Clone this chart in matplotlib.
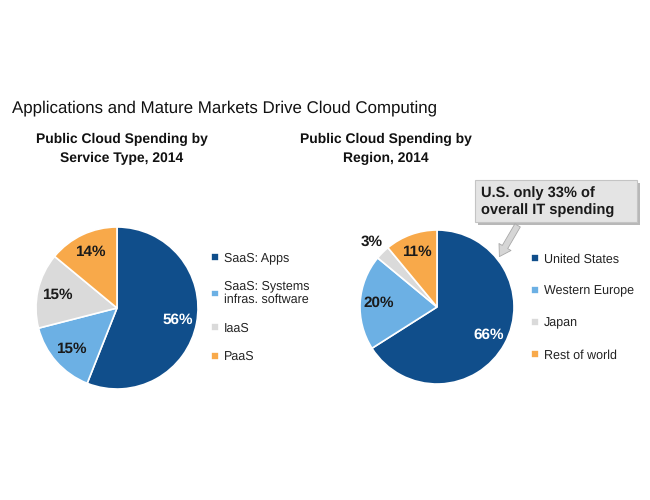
import numpy as np
import matplotlib.pyplot as plt
from matplotlib.patches import Rectangle, FancyArrowPatch

plt.rcParams['font.family'] = ['Liberation Sans', 'DejaVu Sans']
plt.rcParams['text.hinting'] = 'no_hinting'

# data
service_labels = ['SaaS: Apps', 'SaaS: Systems\ninfras. software', 'IaaS', 'PaaS']
service_share = [56, 15, 15, 14]
region_labels = ['United States', 'Western Europe', 'Japan', 'Rest of world']
region_share = [66, 20, 3, 11]

colors = ['#104e8b', '#6cb0e4', '#dadada', '#f8a94a']

W, H = 650, 500
fig = plt.figure(figsize=(6.5, 5), dpi=100)
ax = fig.add_axes([0, 0, 1, 1])


def py(y):
    # pixel row (from top) -> data y
    return H - y


def draw_pie(values, cx, cy, r):
    wedges, _, autotexts = ax.pie(
        values, colors=colors, startangle=90, counterclock=False,
        center=(cx, py(cy)), radius=r, autopct='%d%%', pctdistance=0.76,
        wedgeprops=dict(edgecolor='white', linewidth=1.2),
        textprops=dict(fontsize=11, fontweight='bold', color='#1a1a1a'))
    for i, (w, t) in enumerate(zip(wedges, autotexts)):
        if values[i] < 5:
            ang = np.deg2rad((w.theta1 + w.theta2) / 2)
            t.set_position((cx + 1.2 * r * np.cos(ang), py(cy) + 1.2 * r * np.sin(ang)))
        if i == 0:
            t.set_color('white')
    return wedges


w1 = draw_pie(service_share, 117, 308, 81)
w2 = draw_pie(region_share, 437, 307, 77)

ax.set_xlim(0, W)
ax.set_ylim(0, H)
ax.set_aspect('auto')
ax.axis('off')

leg_kw = dict(frameon=False, fontsize=9, handlelength=0.6, handleheight=0.6,
              handletextpad=0.45, borderaxespad=0,
              bbox_transform=ax.transData, labelcolor='#222222')
leg1 = ax.legend(w1, service_labels, loc='upper left', bbox_to_anchor=(206, py(247)),
                 labelspacing=1.3, **leg_kw)
for t in leg1.get_texts():
    t.set_linespacing(1.15)
ax.add_artist(leg1)
ax.legend(w2, region_labels, loc='upper left', bbox_to_anchor=(526, py(248)),
          labelspacing=1.6, **leg_kw)

# titles
ax.text(12, py(108), 'Applications and Mature Markets Drive Cloud Computing',
        fontsize=12.2, color='#111111', ha='left', va='center')
ax.text(122, py(149), 'Public Cloud Spending by\nService Type, 2014', fontsize=10,
        fontweight='bold', ha='center', va='center', color='#111111', linespacing=1.5)
ax.text(386, py(149), 'Public Cloud Spending by\nRegion, 2014', fontsize=10,
        fontweight='bold', ha='center', va='center', color='#111111', linespacing=1.5)

# callout
ax.add_patch(Rectangle((478, py(225)), 162, 42, facecolor='#b8b8b8', edgecolor='none'))
ax.add_patch(Rectangle((475, py(222)), 162, 42, facecolor='#e4e4e4', edgecolor='#c4c4c4', lw=0.8))
ax.text(481, py(202), 'U.S. only 33% of\noverall IT spending', fontsize=10.5,
        fontweight='bold', ha='left', va='center', color='#1a1a1a', linespacing=1.35)
ax.add_patch(FancyArrowPatch((519, py(223)), (498, py(259)),
                             arrowstyle='simple,head_length=8,head_width=10,tail_width=4.5',
                             facecolor='#d6d6d6', edgecolor='#a8a8a8', lw=0.6))

fig.savefig('out.png', dpi=100)
